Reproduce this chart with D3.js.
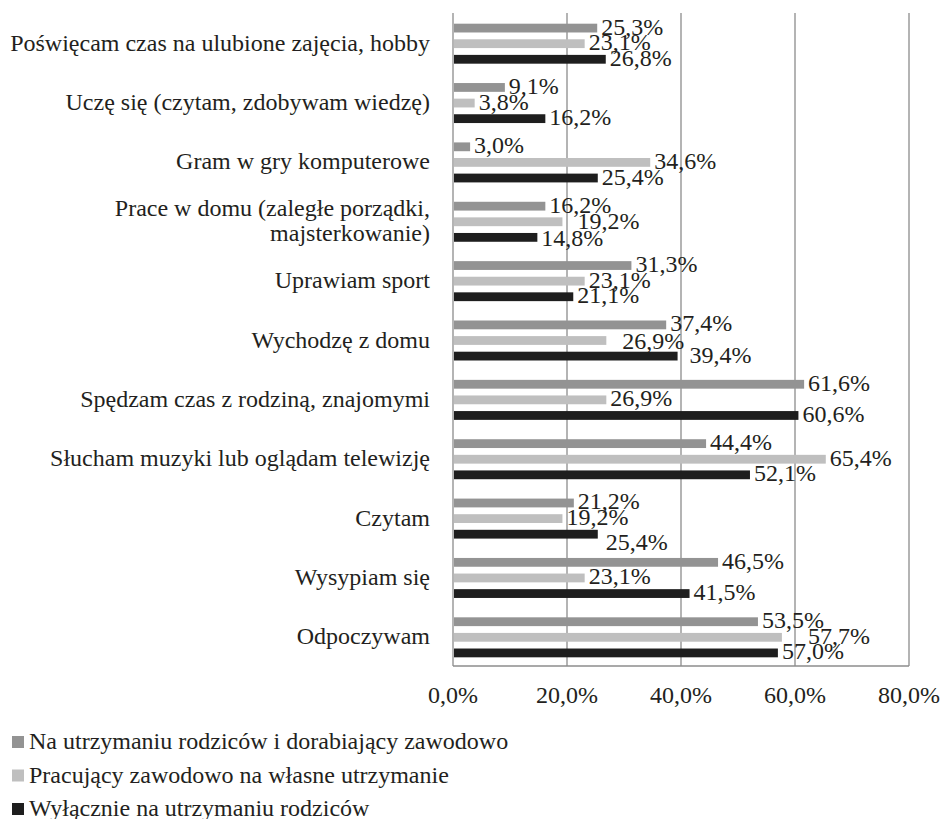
<!DOCTYPE html>
<html>
<head>
<meta charset="utf-8">
<script src="https://cdn.jsdelivr.net/npm/d3@7"></script>
<style>
  body { margin: 0; background: #fff; }
  text { font-family: "Liberation Serif", "Times New Roman", serif; fill: #231f20; }
</style>
</head>
<body>
<script>
const categories = [
  ["Poświęcam czas na ulubione zajęcia, hobby"],
  ["Uczę się (czytam, zdobywam wiedzę)"],
  ["Gram w gry komputerowe"],
  ["Prace w domu (zaległe porządki,", "majsterkowanie)"],
  ["Uprawiam sport"],
  ["Wychodzę z domu"],
  ["Spędzam czas z rodziną, znajomymi"],
  ["Słucham muzyki lub oglądam telewizję"],
  ["Czytam"],
  ["Wysypiam się"],
  ["Odpoczywam"]
];
const seriesNames = [
  "Na utrzymaniu rodziców i dorabiający zawodowo",
  "Pracujący zawodowo na własne utrzymanie",
  "Wyłącznie na utrzymaniu rodziców"
];
const dorabiajacy = [25.3, 9.1, 3.0, 16.2, 31.3, 37.4, 61.6, 44.4, 21.2, 46.5, 53.5];
const pracujacy   = [23.1, 3.8, 34.6, 19.2, 23.1, 26.9, 26.9, 65.4, 19.2, 23.1, 57.7];
const wylacznie   = [26.8, 16.2, 25.4, 14.8, 21.1, 39.4, 60.6, 52.1, 25.4, 41.5, 57.0];
const ticks = [0, 20, 40, 60, 80];
const colors = ["#939393", "#bfbfbf", "#1e1e1e"];

// hand-moved data labels in the original ("series-category": [dx, dy])
const nudge = {
  "1-3": [11, 1], "1-5": [12, 2], "2-5": [8, 0],
  "2-8": [4, 9], "1-10": [22, 0], "2-3": [0, 2]
};

const series = [dorabiajacy, pracujacy, wylacznie];
const W = 944, H = 819;
const fmt = v => v.toFixed(1).replace(".", ",") + "%";

const svg = d3.select("body").append("svg")
  .attr("width", W).attr("height", H);

const x = d3.scaleLinear().domain([0, 80]).range([453, 909]);
const y = d3.scaleBand().domain(d3.range(categories.length)).range([13, 666]);
const sub = d3.scaleBand().domain([0, 1, 2]).range([-19, 20]).paddingInner(0.5);

// gridlines
svg.append("g").selectAll("line")
  .data(ticks).enter().append("line")
  .attr("x1", d => x(d)).attr("x2", d => x(d))
  .attr("y1", 13).attr("y2", 666)
  .attr("stroke", "#8c8c8c").attr("stroke-width", 1.3);
svg.append("line")
  .attr("x1", x(0)).attr("x2", x(80)).attr("y1", 666).attr("y2", 666)
  .attr("stroke", "#8c8c8c").attr("stroke-width", 1.3);

// x tick labels
svg.append("g").selectAll("text")
  .data(ticks).enter().append("text")
  .attr("x", d => x(d)).attr("y", 703)
  .attr("text-anchor", "middle")
  .style("font-size", "24px")
  .text(d => fmt(d));

// category labels
const cat = svg.append("g").selectAll("text")
  .data(categories).enter().append("text")
  .attr("text-anchor", "end")
  .style("font-size", "24px")
  .attr("y", (d, i) => y(i) + y.bandwidth() / 2 - (d.length - 1) * 12.5 + 8);
cat.selectAll("tspan")
  .data(d => d).enter().append("tspan")
  .attr("x", 430)
  .attr("dy", (d, i) => i === 0 ? 0 : 25)
  .text(d => d);

// bars + labels
series.forEach((vals, s) => {
  const g = svg.append("g");
  g.selectAll("rect")
    .data(vals).enter().append("rect")
    .attr("x", x(0) + 1)
    .attr("y", (d, i) => y(i) + y.bandwidth() / 2 + sub(s))
    .attr("width", d => x(d) - x(0) - 1)
    .attr("height", sub.bandwidth() + 1)
    .attr("fill", colors[s]);
  g.selectAll("text")
    .data(vals).enter().append("text")
    .attr("x", (d, i) => x(d) + 4 + (nudge[s + "-" + i] || [0, 0])[0])
    .attr("y", (d, i) => y(i) + y.bandwidth() / 2 + sub(s) + sub.bandwidth() / 2 + 7
      + (nudge[s + "-" + i] || [0, 0])[1])
    .style("font-size", "24px")
    .text(d => fmt(d));
});

// legend
const leg = svg.append("g").selectAll("g")
  .data(seriesNames).enter().append("g")
  .attr("transform", (d, i) => `translate(12, ${742 + i * 33.5})`);
leg.append("rect")
  .attr("x", 0).attr("y", -6).attr("width", 12).attr("height", 12)
  .attr("fill", (d, i) => colors[i]);
leg.append("text")
  .attr("x", 17).attr("y", 7)
  .style("font-size", "24px")
  .text(d => d);
</script>
</body>
</html>
